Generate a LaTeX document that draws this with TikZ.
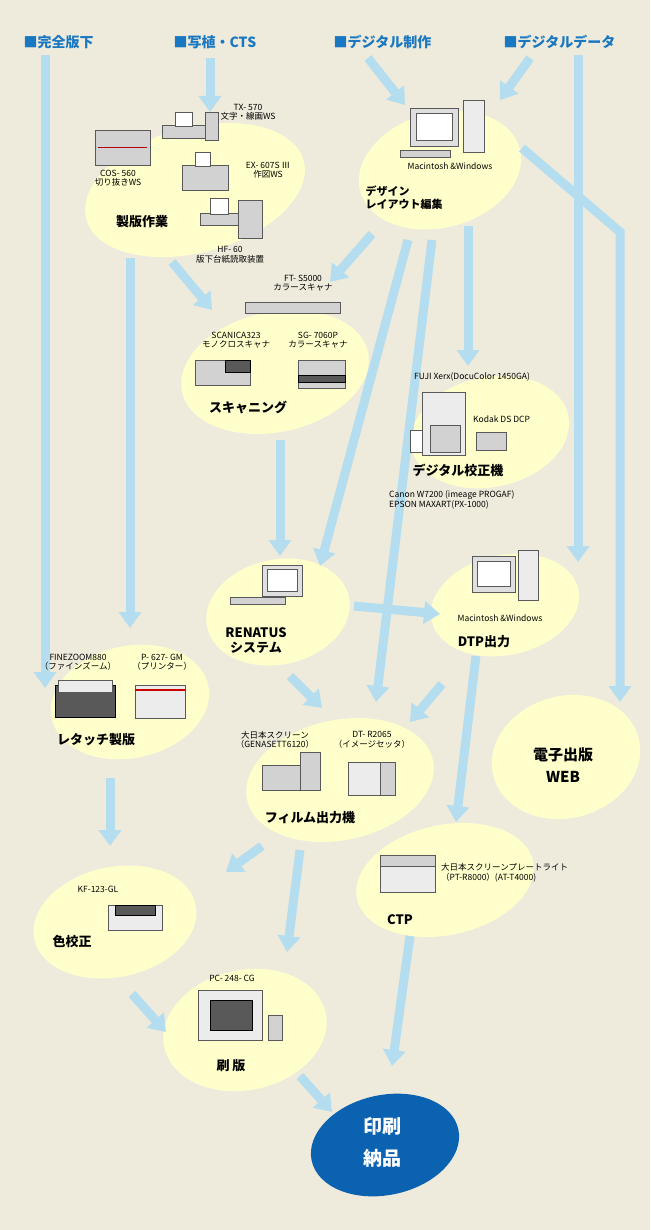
\documentclass[tikz,border=0pt]{standalone}
\usepackage{fontspec}
\setmainfont{Noto Sans CJK JP}
\usetikzlibrary{arrows.meta,shapes.geometric,positioning}
\definecolor{bgc}{HTML}{EEEBDC}
\definecolor{blobc}{HTML}{FFFFCC}
\definecolor{flowc}{HTML}{B5DDF0}
\definecolor{headc}{HTML}{1A78C2}
\definecolor{inkc}{HTML}{0B62B0}
\tikzset{
  blob/.style={ellipse,fill=blobc,draw=none,inner sep=0pt},
  flow/.style={line width=9pt,draw=flowc,-{Triangle[width=22pt,length=16pt]}},
  head/.style={text=headc,font=\bfseries\fontsize{14}{16}\selectfont},
  title/.style={font=\bfseries\fontsize{13}{15}\selectfont},
  tag/.style={font=\fontsize{8.5}{9.5}\selectfont,align=center,inner sep=1pt},
  mach/.style={fill=gray!35,draw=gray!70!black,line width=0.5pt},
  dark/.style={fill=gray!70!black,draw=black,line width=0.5pt},
  screen/.style={fill=white,draw=gray!70!black,line width=0.5pt}
}
\begin{document}
\begin{tikzpicture}[x=1pt,y=-1pt]
\fill[bgc] (0,0) rectangle (650,1230);
\useasboundingbox (0,0) rectangle (650,1230);
% headers
\node[head,anchor=west] (h1) at (20,42) {■完全版下};
\node[head,anchor=west] (h2) at (170,42) {■写植・CTS};
\node[head,anchor=west] (h3) at (330,42) {■デジタル制作};
\node[head,anchor=west] (h4) at (500,42) {■デジタルデータ};
% ellipses
\node[blob,minimum width=225pt,minimum height=125pt,rotate=15] (seihan) at (195,190) {};
\node[blob,minimum width=165pt,minimum height=115pt,rotate=15] (design) at (440,170) {};
\node[blob,minimum width=190pt,minimum height=120pt,rotate=12] (scan) at (275,372) {};
\node[blob,minimum width=160pt,minimum height=110pt,rotate=12] (proof) at (490,432) {};
\node[blob,minimum width=145pt,minimum height=105pt,rotate=12] (renatus) at (278,612) {};
\node[blob,minimum width=150pt,minimum height=100pt,rotate=12] (dtp) at (505,605) {};
\node[blob,minimum width=160pt,minimum height=112pt,rotate=12] (retouch) at (130,702) {};
\node[blob,minimum width=190pt,minimum height=120pt,rotate=12] (film) at (340,780) {};
\node[blob,minimum width=150pt,minimum height=122pt,rotate=15] (web) at (566,757) {};
\node[blob,minimum width=180pt,minimum height=110pt,rotate=12] (ctp) at (445,880) {};
\node[blob,minimum width=165pt,minimum height=110pt,rotate=12] (color) at (115,922) {};
\node[blob,minimum width=165pt,minimum height=120pt,rotate=12] (plate) at (245,1030) {};
\node[ellipse,fill=inkc,minimum width=150pt,minimum height=100pt,rotate=12,inner sep=0pt] (print) at (385,1145) {};
% flows
\draw[flow] (45,55) -- (45,688);
\draw[flow] (210,58) -- (210,112);
\draw[flow] (368,58) -- (405,105);
\draw[flow] (530,58) -- (500,100);
\draw[flow] (578,55) -- (578,562);
\draw[flow] (522,148) -- (620,232) -- (620,702);
\draw[flow] (130,258) -- (130,628);
\draw[flow] (172,262) -- (212,310);
\draw[flow] (372,234) -- (330,282);
\draw[flow] (468,226) -- (468,366);
\draw[flow] (408,240) -- (320,566);
\draw[flow] (432,240) -- (376,702);
\draw[flow] (280,440) -- (280,556);
\draw[flow] (354,606) -- (440,614);
\draw[flow] (290,676) -- (322,708);
\draw[flow] (442,684) -- (410,722);
\draw[flow] (476,656) -- (456,822);
\draw[flow] (110,778) -- (110,846);
\draw[flow] (262,846) -- (226,872);
\draw[flow] (300,850) -- (287,952);
\draw[flow] (132,994) -- (166,1032);
\draw[flow] (300,1076) -- (332,1112);
\draw[flow] (410,936) -- (392,1066);
% 製版作業
\draw[mach] (95,130) rectangle (150,165);
\draw[red!70!black,line width=1pt] (98,148) -- (147,148);
\draw[mach] (162,125) rectangle (215,138);
\draw[screen] (175,112) rectangle (192,126);
\draw[mach] (205,112) rectangle (218,140);
\draw[mach] (182,165) rectangle (228,190);
\draw[screen] (195,152) rectangle (210,166);
\draw[mach] (200,213) rectangle (258,225);
\draw[screen] (210,198) rectangle (228,214);
\draw[mach] (238,200) rectangle (262,238);
\node[tag] (tx) at (248,112) {TX- 570\\文字・線画WS};
\node[tag] (cos) at (118,178) {COS- 560\\切り抜きWS};
\node[tag] (ex) at (268,170) {EX- 607S Ⅲ\\作図WS};
\node[tag] (hf) at (230,255) {HF- 60\\版下台紙読取装置};
\node[title] (t1) at (142,222) {製版作業};
% デザイン
\draw[screen,fill=gray!25] (410,108) rectangle (458,146);
\draw[screen] (416,113) rectangle (452,140);
\draw[mach,fill=gray!15] (463,100) rectangle (484,152);
\draw[mach] (400,150) rectangle (450,157);
\node[tag] (mac1) at (450,166) {Macintosh \&Windows};
\node[title,font=\bfseries\fontsize{11}{13}\selectfont,align=left] (t2) at (404,198) {デザイン\\レイアウト編集};
% スキャニング
\draw[mach] (245,302) rectangle (340,313);
\node[tag] (ft) at (303,283) {FT- S5000\\カラースキャナ};
\draw[mach] (195,360) rectangle (250,385);
\draw[dark] (225,360) rectangle (250,372);
\draw[mach] (298,360) rectangle (345,388);
\draw[dark] (298,375) rectangle (345,382);
\node[tag] (scn) at (236,340) {SCANICA323\\モノクロスキャナ};
\node[tag] (sg) at (318,340) {SG- 7060P\\カラースキャナ};
\node[title] (t3) at (248,408) {スキャニング};
% デジタル校正機
\draw[mach,fill=gray!15] (422,392) rectangle (465,455);
\draw[mach] (430,425) rectangle (460,452);
\draw[screen] (410,430) rectangle (422,452);
\draw[mach] (476,432) rectangle (506,450);
\node[tag,anchor=west] (fuji) at (413,377) {FUJI Xerx(DocuColor 1450GA)};
\node[tag,anchor=west] (kodak) at (472,419) {Kodak DS DCP};
\node[title] (t4) at (458,470) {デジタル校正機};
\node[tag,align=left,anchor=west] (canon) at (388,500) {Canon W7200 (imeage PROGAF)\\EPSON MAXART(PX-1000)};
% RENATUS
\draw[screen,fill=gray!25] (262,565) rectangle (302,596);
\draw[screen] (267,569) rectangle (297,591);
\draw[mach] (230,597) rectangle (285,604);
\node[title,align=center] (t5) at (256,641) {RENATUS\\システム};
% DTP出力
\draw[screen,fill=gray!25] (472,556) rectangle (515,592);
\draw[screen] (477,561) rectangle (510,586);
\draw[mach,fill=gray!15] (518,550) rectangle (538,600);
\node[tag] (mac2) at (500,618) {Macintosh \&Windows};
\node[title] (t6) at (484,642) {DTP出力};
% レタッチ製版
\draw[dark] (55,685) rectangle (115,717);
\draw[mach,fill=gray!15] (58,680) rectangle (112,692);
\draw[mach,fill=gray!15] (135,685) rectangle (185,718);
\draw[red!80!black,line width=2pt] (135,690) -- (185,690);
\node[tag] (fz) at (78,662) {FINEZOOM880\\（ファインズーム）};
\node[tag] (p627) at (162,662) {P- 627- GM\\（プリンター）};
\node[title] (t7) at (96,740) {レタッチ製版};
% フィルム出力機
\draw[mach] (262,765) rectangle (300,790);
\draw[mach] (300,752) rectangle (320,790);
\draw[mach,fill=gray!15] (348,762) rectangle (395,795);
\draw[mach] (380,762) rectangle (395,795);
\node[tag] (dns) at (275,740) {大日本スクリーン\\（GENASETT6120）};
\node[tag] (dt) at (372,740) {DT- R2065\\（イメージセッタ）};
\node[title] (t8) at (310,818) {フィルム出力機};
% 電子出版
\node[title,align=center,font=\bfseries\fontsize{15}{22}\selectfont] (t9) at (563,765) {電子出版\\WEB};
% CTP
\draw[mach,fill=gray!15] (380,855) rectangle (435,892);
\draw[mach] (380,855) rectangle (435,866);
\node[tag,align=left,anchor=west] (pt) at (440,873) {大日本スクリーンプレートライト\\（PT-R8000）(AT-T4000)};
\node[title] (t10) at (400,920) {CTP};
% 色校正
\draw[mach,fill=gray!15] (108,905) rectangle (162,930);
\draw[dark] (115,905) rectangle (155,915);
\node[tag] (kf) at (98,889) {KF-123-GL};
\node[title] (t11) at (72,942) {色校正};
\node[tag] (pc) at (232,978) {PC- 248- CG};
% 刷版
\draw[mach,fill=gray!15] (198,990) rectangle (262,1040);
\draw[dark] (210,1000) rectangle (252,1030);
\draw[mach] (268,1015) rectangle (282,1040);
\node[title] (t12) at (231,1066) {刷 版};
% 印刷納品
\node[title,text=white,align=center,font=\bfseries\fontsize{19}{32}\selectfont] (t13) at (382,1142) {印刷\\納品};
\end{tikzpicture}
\end{document}
